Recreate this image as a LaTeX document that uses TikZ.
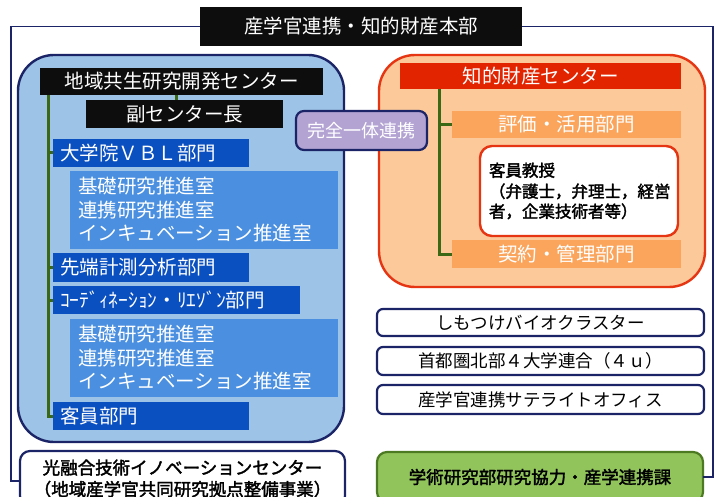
\documentclass[tikz,border=0pt]{standalone}
\usepackage{fontspec}
\newfontfamily\cjk{Noto Sans CJK JP}
\newfontfamily\cjkb{Noto Sans CJK JP}[FakeBold=2]
\definecolor{navy}{HTML}{1B2466}
\definecolor{regblue}{HTML}{9DC3E6}
\definecolor{deptblue}{HTML}{0B50C0}
\definecolor{subblue}{HTML}{4A8FE0}
\definecolor{glinec}{HTML}{3A6814}
\definecolor{regorange}{HTML}{FCC99A}
\definecolor{redor}{HTML}{E63512}
\definecolor{redhdr}{HTML}{E22400}
\definecolor{orbox}{HTML}{FBA45C}
\definecolor{purp}{HTML}{B3A3D3}
\definecolor{gfill}{HTML}{92C45C}
\definecolor{gborder}{HTML}{4C7A22}
\newcommand\fA{\cjk\fontsize{19.5}{23.5}\selectfont}
\newcommand\fB{\cjk\fontsize{17.5}{21}\selectfont}
\newcommand\fBb{\cjkb\fontsize{17.5}{21.5}\selectfont}
\newcommand\fC{\cjkb\fontsize{16.5}{20}\selectfont}
\begin{document}
\begin{tikzpicture}[x=1pt,y=-1pt,
  nw/.style={anchor=north west, inner sep=0pt, outer sep=0pt},
  blackbox/.style={nw, fill=black!95, text=white, font=\fA},
  deptbox/.style={nw, fill=deptblue, text=white, font=\fA, align=left, inner xsep=7pt},
  subbox/.style={nw, fill=subblue, text=white, font=\fA, align=left, inner xsep=8pt},
  region/.style={nw, rounded corners=36pt, line width=2.4pt},
  orbox/.style={nw, fill=orbox, text=white, font=\fA},
  wbox/.style={nw, draw=navy, line width=2.2pt, rounded corners=6pt, fill=white, font=\fB},
  frame/.style={draw=navy, line width=1.8pt},
  gline/.style={draw=glinec, line width=3pt},
]
\useasboundingbox (0,0) rectangle (720,497);
\clip (0,0) rectangle (720,497);
\fill[white] (0,0) rectangle (720,497);

% title
\node[blackbox, minimum width=322pt, minimum height=39pt] (title) at (200,7) {産学官連携・知的財産本部};

% bottom boxes
\node[nw, draw=navy, line width=2.2pt, rounded corners=10pt, fill=white, font=\fBb, align=center,
      minimum width=325pt, minimum height=55pt] (bl) at (20,451)
      {光融合技術イノベーションセンター\\（地域産学官共同研究拠点整備事業）};
\node[nw, draw=gborder, line width=2.2pt, rounded corners=10pt, fill=gfill, font=\fBb,
      minimum width=326pt, minimum height=50pt] (gb) at (377,452) {学術研究部研究協力・産学連携課};

% outer frame
\coordinate (fl) at (11,481);
\coordinate (fr) at (713,477);
\draw[frame] (title.west) -| (fl) -- (fl -| bl.west);
\draw[frame] (title.east) -| (fr) -- (fr -| gb.east);

% blue region
\node[region, draw=navy, fill=regblue, minimum width=326pt, minimum height=387pt] (blue) at (18,55) {};
\node[blackbox, minimum width=283pt, minimum height=27pt] (h1) at (40,68) {地域共生研究開発センター};
\node[blackbox, minimum width=197pt, minimum height=28pt] (vice) at (86,100) {副センター長};
\node[deptbox, text width=182pt, minimum height=28pt] (d1) at (53,139) {大学院ＶＢＬ部門};
\node[subbox, text width=252pt, minimum height=78pt] (s1) at (70,171)
  {基礎研究推進室\\連携研究推進室\\インキュベーション推進室};
\node[deptbox, text width=182pt, minimum height=29pt] (d2) at (53,253) {先端計測分析部門};
\node[deptbox, text width=233pt, minimum height=28pt] (d3) at (53,286) {ｺｰﾃﾞｨﾈｰｼｮﾝ・ﾘｴｿﾞﾝ部門};
\node[subbox, text width=252pt, minimum height=78pt] (s2) at (70,319)
  {基礎研究推進室\\連携研究推進室\\インキュベーション推進室};
\node[deptbox, text width=182pt, minimum height=28pt] (d4) at (53,402) {客員部門};

\draw[gline] (h1.south -| 176,0) -- (vice.north -| 176,0);
\draw[gline] ([xshift=-5pt]d1.west |- h1.south) |- (d4.west);
\foreach \d in {d1,d2,d3} \draw[gline] ([xshift=-6pt]\d.west) -- (\d.west);

% orange region
\node[region, draw=redor, fill=regorange, minimum width=326pt, minimum height=232pt] (orange) at (379,55) {};
\node[nw, fill=redhdr, text=white, font=\fA, minimum width=281pt, minimum height=26pt] (h2) at (400,63) {知的財産センター};
\node[orbox, minimum width=229pt, minimum height=27pt] (eval) at (452,111) {評価・活用部門};
\node[nw, draw=redor, line width=2.4pt, rounded corners=12pt, fill=white, font=\fC, align=left,
      inner xsep=9pt, text width=180pt, minimum height=90pt] (prof) at (480,146)
      {客員教授\\[1pt]（弁護士，弁理士，経営\\者，企業技術者等）};
\node[orbox, minimum width=229pt, minimum height=28pt] (contract) at (452,240) {契約・管理部門};
\draw[gline] (h2.south -| 439,0) |- (contract.west);
\draw[gline] ([xshift=-13pt]eval.west) -- (eval.west);

% purple link
\node[nw, draw=navy, line width=2.2pt, rounded corners=8pt, fill=purp, text=white, font=\cjk\fontsize{18}{20}\selectfont,
      minimum width=131pt, minimum height=39pt] (link) at (296,111) {完全一体連携};

% right boxes
\node[wbox, minimum width=327pt, minimum height=27pt] (r1) at (377,309) {しもつけバイオクラスター};
\node[wbox, minimum width=327pt, minimum height=28pt] (r2) at (377,347) {首都圏北部４大学連合（４ｕ）};
\node[wbox, minimum width=327pt, minimum height=29pt] (r3) at (377,385) {産学官連携サテライトオフィス};
\end{tikzpicture}
\end{document}
